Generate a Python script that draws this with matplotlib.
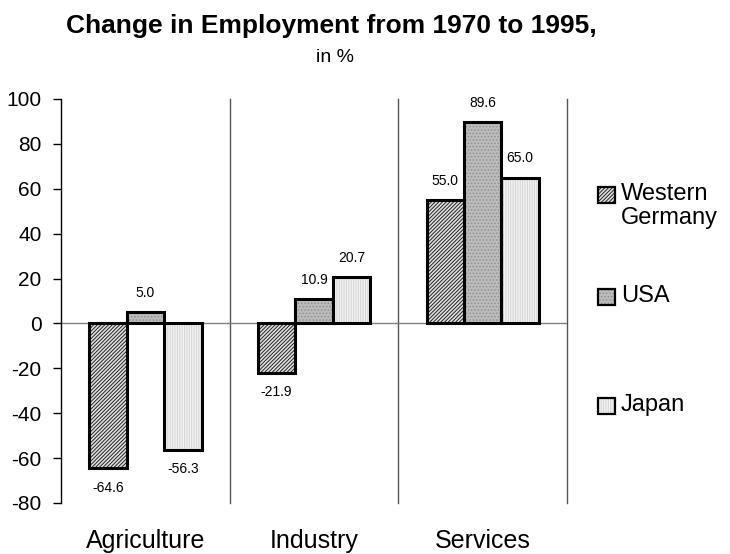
import matplotlib.pyplot as plt
from matplotlib.patches import Rectangle
import numpy as np

sectores = ['Agriculture', 'Industry', 'Services']
paises = ['Western\nGermany', 'USA', 'Japan']
west_germany = [-64.6, -21.9, 55.0]
usa = [5.0, 10.9, 89.6]
japan = [-56.3, 20.7, 65.0]
yticks = [-80, -60, -40, -20, 0, 20, 40, 60, 80, 100]

plt.rcParams['font.family'] = ['Liberation Sans', 'DejaVu Sans']
plt.rcParams['axes.unicode_minus'] = False
plt.rcParams['hatch.linewidth'] = 0.7

# relleno y trama de cada serie
estilos = [
    dict(facecolor='#e0e0e0', edgecolor='#222222', hatch='/' * 9),
    dict(facecolor='#bcbcbc', edgecolor='#909090', hatch='.' * 5),
    dict(facecolor='#f4f4f4', edgecolor='#d2d2d2', hatch='|' * 7),
]

fig = plt.figure(figsize=(7.3, 5.54), dpi=100)
ax = fig.add_axes([0.0836, 0.0921, 0.6931, 0.7292])

x = np.arange(len(sectores))
ancho = 0.222
series = [west_germany, usa, japan]

for i, (valores, estilo) in enumerate(zip(series, estilos)):
    pos = x + (i - 1) * ancho
    # trama sin borde, y despues el borde grueso negro
    ax.bar(pos, valores, ancho, linewidth=0, zorder=3, **estilo)
    ax.bar(pos, valores, ancho, fill=False, edgecolor='black', linewidth=2.2, zorder=4)
    for xp, v in zip(pos, valores):
        off = 14 if v >= 0 else -14
        ax.annotate(f'{v:.1f}', (xp, v), xytext=(0, off), textcoords='offset points',
                    ha='center', va='center', fontsize=10)

ax.axhline(0, color='#808080', linewidth=1, zorder=2)
for sep in [0.5, 1.5, 2.5]:
    ax.axvline(sep, color='#555555', linewidth=1, zorder=1, clip_on=False)

ax.set_xlim(-0.5, 2.5)
ax.set_ylim(-80, 100)
ax.set_yticks(yticks)
ax.tick_params(axis='y', labelsize=15, length=6, width=1, pad=8)
ax.set_xticks(x)
ax.set_xticklabels(sectores, fontsize=18)
ax.tick_params(axis='x', length=0, pad=19)

for lado in ['top', 'right', 'bottom']:
    ax.spines[lado].set_visible(False)
ax.spines['left'].set_linewidth(1)

fig.text(0.4534, 0.9404, 'Change in Employment from 1970 to 1995,', ha='center',
         va='baseline', fontsize=19, fontweight='bold')
fig.text(0.459, 0.888, 'in %', ha='center', va='baseline', fontsize=14)

# leyenda dibujada a mano
W, H = 730, 554
ys_leyenda = [187, 289, 398]
for etiqueta, estilo, y0 in zip(paises, estilos, ys_leyenda):
    rect = Rectangle((598 / W, 1 - (y0 + 16) / H), 17 / W, 16 / H, transform=fig.transFigure,
                     linewidth=0, **estilo)
    fig.add_artist(rect)
    borde = Rectangle((598 / W, 1 - (y0 + 16) / H), 17 / W, 16 / H, transform=fig.transFigure,
                      fill=False, edgecolor='black', linewidth=1.6)
    fig.add_artist(borde)
    fig.text(621 / W, 1 - (y0 - 4) / H, etiqueta, ha='left', va='top', fontsize=17,
             linespacing=1.1)

fig.savefig('out.png', dpi=100)
